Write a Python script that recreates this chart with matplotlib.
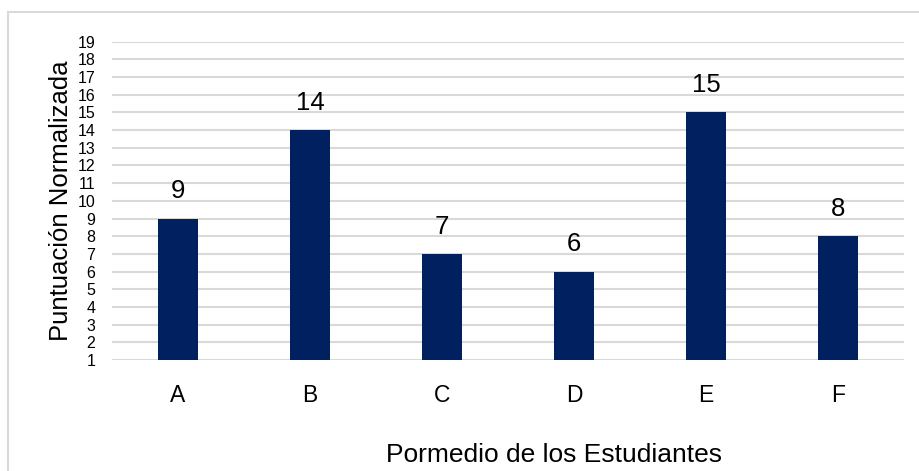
#!/usr/bin/env python3

import matplotlib
matplotlib.use("Agg")
import matplotlib.pyplot as plt
from matplotlib.patches import Rectangle

plt.rcParams["font.family"] = ["Liberation Sans", "DejaVu Sans"]

categories = ["A", "B", "C", "D", "E", "F"]
scores = [9, 14, 7, 6, 15, 8]
y_ticks = list(range(1, 20))

bar_color = "#002060"
grid_color = "#d9d9d9"


def main():
    fig = plt.figure(figsize=(9.19, 4.71), dpi=100)
    ax = fig.add_axes([112 / 919, 1 - 360 / 471, 792 / 919, (360 - 41.7) / 471])

    # light grey frame around the chart, open at the bottom
    fig.patches.append(Rectangle((8 / 919, -0.1), 1.0, 1 - 12 / 471 + 0.1,
                                 transform=fig.transFigure, fill=False,
                                 ec=grid_color, lw=1.5))

    x = range(len(categories))
    bars = ax.bar(x, [s - 1 for s in scores], bottom=1, width=0.31,
                  color=bar_color, zorder=3)

    for rect, s in zip(bars, scores):
        ax.annotate(str(s), xy=(rect.get_x() + rect.get_width() / 2, s),
                    xytext=(0, 11), textcoords="offset points",
                    ha="center", va="bottom", fontsize=18.5, color="black")

    ax.set_xlim(-0.5, len(categories) - 0.5)
    ax.set_ylim(1, 19)
    ax.set_yticks(y_ticks)
    ax.set_xticks(list(x))
    ax.set_xticklabels(categories)

    ax.grid(axis="y", color=grid_color, linewidth=1.5, zorder=0)
    ax.tick_params(axis="y", length=0, labelsize=11.5, pad=12, colors="black")
    ax.tick_params(axis="x", length=0, labelsize=16.5, pad=17, colors="black")
    for spine in ax.spines.values():
        spine.set_visible(False)

    ax.set_ylabel("Puntuación Normalizada", fontsize=18.5, labelpad=3)
    # the x title sits a bit right of centre in the original
    ax.set_xlabel("Pormedio de los Estudiantes", fontsize=19, labelpad=26,
                  x=0.5587)

    plt.savefig("out.png", dpi=100)


if __name__ == "__main__":
    main()
